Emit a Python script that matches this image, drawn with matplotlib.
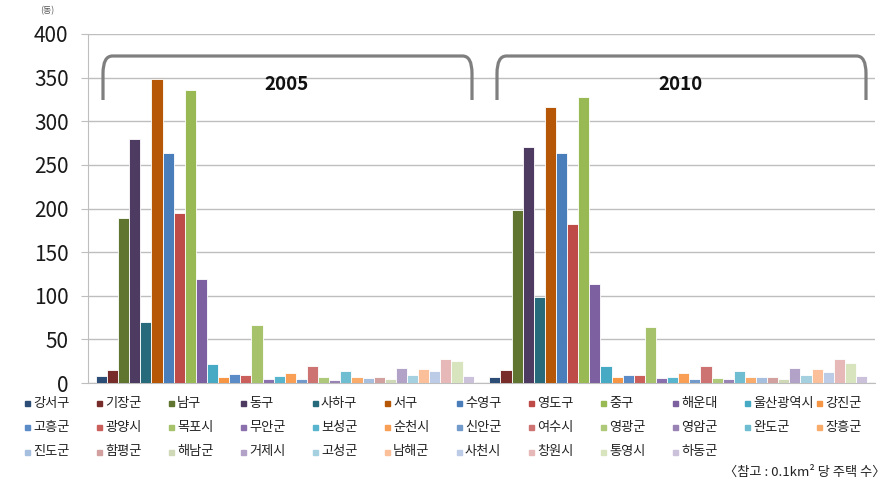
import numpy as np
import matplotlib
matplotlib.use("Agg")
import matplotlib.pyplot as plt
from matplotlib.path import Path
from matplotlib.patches import PathPatch, Rectangle

plt.rcParams['font.family'] = ['Noto Sans CJK KR', 'DejaVu Sans']

# --- data -------------------------------------------------------
years = ["2005", "2010"]
regions = ["강서구", "기장군", "남구", "동구", "사하구", "서구", "수영구", "영도구",
           "중구", "해운대", "울산광역시", "강진군", "고흥군", "광양시", "목포시", "무안군",
           "보성군", "순천시", "신안군", "여수시", "영광군", "영암군", "완도군", "장흥군",
           "진도군", "함평군", "해남군", "거제시", "고성군", "남해군", "사천시", "창원시",
           "통영시", "하동군"]
v2005 = [8, 15, 189, 280, 70, 348, 264, 195, 336, 119, 22, 7, 10, 9, 67, 5, 8, 12,
         5, 20, 6.5, 3, 14, 7, 6, 6.5, 4.5, 17, 9, 16, 14, 28, 25, 8]
v2010 = [6.5, 14.5, 198, 270, 98, 316, 264, 182, 328, 114, 20, 6.5, 9, 9, 64, 6, 7, 11,
         5, 19.5, 6, 5, 14, 6.5, 6.5, 6.5, 4.5, 17.5, 9, 16, 12.5, 27.5, 23, 8]

colors = ["#2C4D75", "#772C2A", "#5F7530", "#4D3B62", "#276A7C", "#B65708",
          "#4A7EBB", "#BE4B48", "#98B954", "#7D60A0", "#46AAC5", "#F69544",
          "#5B8CC8", "#CB5F5C", "#A6C36B", "#8B70AE", "#57B5CD", "#F89E55",
          "#729ACA", "#CD7371", "#AFC97A", "#9983B5", "#6FBDD1", "#F9AB6B",
          "#A7BFDE", "#D2A09E", "#CFD9B8", "#B3A2C7", "#A5D0E0", "#FBC09A",
          "#BCCBE6", "#E6B9B8", "#D7E4BD", "#CCC1DA"]

# --- plot -------------------------------------------------------
W, H = 890, 488
fig = plt.figure(figsize=(W / 100, H / 100), dpi=100)
ax = fig.add_axes([88 / W, 1 - 383 / H, (875 - 88) / W, (383 - 34) / H])

n = len(regions)
w = 0.96 / n
x = np.arange(len(years))
for j, name in enumerate(regions):
    ax.bar(x + (j - (n - 1) / 2) * w, [v2005[j], v2010[j]], width=w,
           color=colors[j], edgecolor='white', linewidth=0.6, zorder=3)

ax.set_xlim(-0.5, 1.5)
ax.set_ylim(0, 400)
ax.set_yticks(range(0, 401, 50))
ax.set_xticks([])
ax.grid(axis='y', color='#BEBEBE', linewidth=1, zorder=0)
for s in ['top', 'right']:
    ax.spines[s].set_visible(False)
ax.spines['left'].set_color('#BEBEBE')
ax.spines['bottom'].set_color('#BEBEBE')
ax.tick_params(axis='y', length=5, color='#BEBEBE', pad=9, labelsize=15,
               labelcolor='#1A1A1A')

# brackets with year labels (axes coords)
def bracket(x0, x1):
    top = 1 - (56 - 34) / (383 - 34)
    bot = 1 - (100 - 34) / (383 - 34)
    dx = 0.012
    verts = [(x0, bot), (x0, top - 0.05), (x0, top), (x0 + dx, top),
             (x1 - dx, top), (x1, top), (x1, top - 0.05), (x1, bot)]
    codes = [Path.MOVETO, Path.LINETO, Path.CURVE3, Path.CURVE3,
             Path.LINETO, Path.CURVE3, Path.CURVE3, Path.LINETO]
    ax.add_patch(PathPatch(Path(verts, codes), transform=ax.transAxes,
                           fill=False, edgecolor='#7F7F7F', linewidth=2.3,
                           capstyle='butt', zorder=4, clip_on=False))

bracket((103 - 88) / 787, (472 - 88) / 787)
bracket((497 - 88) / 787, (866 - 88) / 787)
fig.text(287 / W, 1 - 84 / H, years[0], ha='center', va='center',
         fontsize=13.5, fontweight='bold', color='#111111')
fig.text(681 / W, 1 - 84 / H, years[1], ha='center', va='center',
         fontsize=13.5, fontweight='bold', color='#111111')

fig.text(47 / W, 1 - 11 / H, "(동)", ha='center', va='center', fontsize=6.5,
         style='italic', color='#555555')

# legend: 12 columns, row by row
for i, name in enumerate(regions):
    r, c = divmod(i, 12)
    lx = 27 + 72 * c
    ly = 403 + 24.5 * r
    fig.add_artist(Rectangle(((lx - 2.5) / W, 1 - (ly + 2.5) / H), 5 / W, 5 / H,
                             transform=fig.transFigure, color=colors[i]))
    fig.text((lx + 6) / W, 1 - ly / H, name, ha='left', va='center',
             fontsize=9.5, color='#222222')

fig.text(885 / W, 1 - 472 / H, "〈참고 : 0.1km² 당 주택 수〉", ha='right', va='center',
         fontsize=9.5, style='italic', color='#222222')

fig.savefig("out.png", dpi=100)
